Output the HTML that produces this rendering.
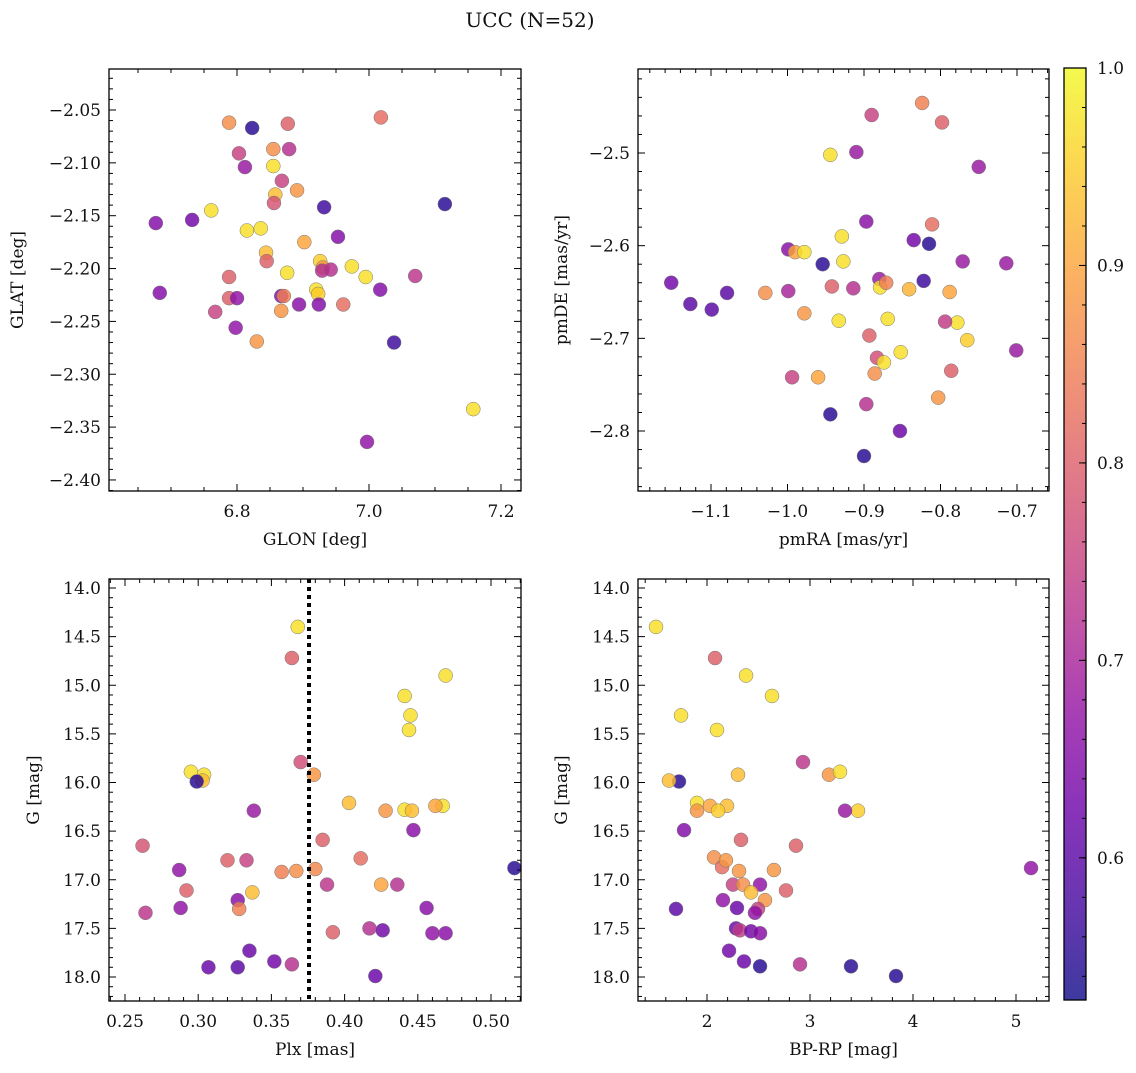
<!DOCTYPE html>
<html><head><meta charset="utf-8">
<style>
html,body{margin:0;padding:0;background:#fff;}
svg text{font-family:"DejaVu Serif","Liberation Serif",serif;fill:#111;}
</style></head>
<body>
<svg id="fig" xmlns="http://www.w3.org/2000/svg" width="1136" height="1068" viewBox="0 0 1136 1068">
<text x="530" y="27" font-size="20" text-anchor="middle">UCC (N=52)</text>
</svg>
<script>
// Panel 1: GLON vs GLAT
const p1X=[6.823,6.788,6.877,7.018,6.803,6.855,6.879,6.855,6.812,6.868,6.858,6.856,6.761,6.932,7.115,6.677,6.732,6.815,6.836,6.891,6.902,6.953,6.844,6.845,6.926,6.930,6.929,6.942,6.974,6.995,6.876,6.788,7.070,6.683,6.788,6.800,6.867,6.871,6.867,6.894,6.920,6.923,6.924,6.961,7.017,6.767,6.798,6.830,7.038,7.158,6.997];
const p1Y=[-2.067,-2.062,-2.063,-2.057,-2.091,-2.087,-2.087,-2.103,-2.104,-2.117,-2.130,-2.138,-2.145,-2.142,-2.139,-2.157,-2.154,-2.164,-2.162,-2.126,-2.175,-2.170,-2.185,-2.193,-2.193,-2.199,-2.202,-2.201,-2.198,-2.208,-2.204,-2.208,-2.207,-2.223,-2.228,-2.228,-2.226,-2.226,-2.240,-2.234,-2.220,-2.224,-2.234,-2.234,-2.220,-2.241,-2.256,-2.269,-2.270,-2.333,-2.364];
const p1C=[0.55,0.87,0.8,0.82,0.75,0.87,0.72,0.97,0.68,0.75,0.93,0.78,0.97,0.57,0.55,0.65,0.63,0.97,0.97,0.88,0.9,0.65,0.93,0.8,0.95,0.88,0.72,0.72,0.97,0.97,0.97,0.8,0.73,0.65,0.8,0.67,0.65,0.85,0.88,0.66,0.97,0.95,0.65,0.82,0.65,0.75,0.67,0.88,0.57,0.97,0.67];
// Panel 2: pmRA vs pmDE
const p2X=[-0.824,-0.890,-0.798,-0.944,-0.910,-0.750,-0.897,-0.811,-0.999,-0.990,-0.978,-0.929,-0.927,-0.954,-0.835,-0.815,-0.771,-0.714,-1.152,-1.127,-1.099,-1.079,-1.029,-0.999,-0.942,-0.933,-0.978,-0.914,-0.880,-0.879,-0.871,-0.841,-0.822,-0.788,-0.778,-0.794,-0.869,-0.893,-0.883,-0.874,-0.852,-0.765,-0.701,-0.886,-0.960,-0.994,-0.803,-0.786,-0.897,-0.944,-0.853,-0.900];
const p2Y=[-2.446,-2.459,-2.467,-2.502,-2.499,-2.515,-2.574,-2.577,-2.604,-2.607,-2.607,-2.590,-2.617,-2.620,-2.594,-2.598,-2.617,-2.619,-2.640,-2.663,-2.669,-2.651,-2.651,-2.649,-2.644,-2.681,-2.673,-2.646,-2.636,-2.645,-2.640,-2.647,-2.638,-2.650,-2.683,-2.682,-2.679,-2.697,-2.721,-2.726,-2.715,-2.702,-2.713,-2.738,-2.742,-2.742,-2.764,-2.735,-2.771,-2.782,-2.800,-2.827];
const p2C=[0.85,0.75,0.8,0.97,0.68,0.68,0.66,0.82,0.66,0.9,0.97,0.97,0.97,0.55,0.63,0.55,0.68,0.68,0.63,0.6,0.6,0.6,0.87,0.7,0.8,0.97,0.88,0.72,0.68,0.97,0.85,0.92,0.57,0.9,0.97,0.74,0.97,0.8,0.77,0.97,0.97,0.95,0.68,0.87,0.9,0.75,0.88,0.8,0.72,0.55,0.62,0.55];
// Panel 3: Plx vs G
const p3X=[0.368,0.364,0.469,0.441,0.445,0.444,0.370,0.379,0.295,0.304,0.303,0.299,0.403,0.441,0.446,0.428,0.467,0.462,0.338,0.385,0.447,0.262,0.287,0.320,0.333,0.367,0.357,0.380,0.411,0.292,0.337,0.388,0.425,0.436,0.288,0.327,0.328,0.264,0.392,0.417,0.426,0.456,0.469,0.460,0.516,0.335,0.307,0.327,0.352,0.364,0.421];
const p3Y=[14.40,14.72,14.90,15.11,15.31,15.46,15.79,15.92,15.89,15.92,15.98,15.99,16.21,16.28,16.29,16.29,16.24,16.24,16.29,16.59,16.49,16.65,16.90,16.80,16.80,16.91,16.92,16.89,16.78,17.11,17.13,17.05,17.05,17.05,17.29,17.21,17.30,17.34,17.54,17.50,17.52,17.29,17.55,17.55,16.88,17.73,17.90,17.90,17.84,17.87,17.99];
const p3C=[0.97,0.8,0.97,0.97,0.97,0.97,0.77,0.88,0.97,0.97,0.93,0.55,0.93,0.97,0.93,0.88,0.97,0.9,0.68,0.8,0.66,0.78,0.67,0.8,0.75,0.87,0.85,0.86,0.82,0.8,0.93,0.73,0.9,0.72,0.67,0.66,0.85,0.73,0.8,0.72,0.63,0.66,0.66,0.67,0.55,0.62,0.62,0.6,0.63,0.72,0.62];
// Panel 4: BP-RP vs G
const p4X=[1.505,2.078,2.379,2.631,1.748,2.097,2.932,2.301,3.184,3.291,1.728,1.631,1.903,2.029,1.903,2.194,2.107,3.466,3.340,1.777,2.330,2.068,2.146,2.184,2.311,2.650,2.864,5.146,2.252,2.515,2.350,2.767,2.427,2.563,2.495,2.466,1.699,2.155,2.291,2.282,2.320,2.427,2.515,2.214,2.359,2.515,2.903,3.398,3.835];
const p4Y=[14.40,14.72,14.90,15.11,15.31,15.46,15.79,15.92,15.92,15.89,15.99,15.98,16.21,16.24,16.29,16.24,16.29,16.29,16.29,16.49,16.59,16.77,16.87,16.80,16.91,16.90,16.65,16.88,17.05,17.05,17.05,17.11,17.13,17.21,17.30,17.34,17.30,17.21,17.29,17.50,17.52,17.53,17.55,17.73,17.84,17.89,17.87,17.89,17.99];
const p4C=[0.97,0.8,0.97,0.97,0.97,0.97,0.73,0.93,0.88,0.97,0.55,0.93,0.97,0.9,0.88,0.93,0.95,0.95,0.68,0.65,0.8,0.87,0.82,0.88,0.88,0.88,0.8,0.67,0.75,0.67,0.87,0.8,0.93,0.88,0.75,0.67,0.6,0.67,0.62,0.63,0.74,0.63,0.66,0.63,0.62,0.55,0.72,0.55,0.55];
const plxMean=0.3757;
const cbTicks=[0.6,0.7,0.8,0.9,1.0];
const vmin=0.528, vmax=1.0;

const NS='http://www.w3.org/2000/svg';
const svg=document.getElementById('fig');
function mk(tag,attrs,parent){const e=document.createElementNS(NS,tag);for(const k in attrs)e.setAttribute(k,attrs[k]);(parent||svg).appendChild(e);return e;}
const plasma=[[13,8,135],[65,4,157],[106,0,168],[143,13,164],[177,42,144],[204,71,120],[225,100,98],[242,132,75],[252,166,54],[252,206,37],[240,249,33]];
function cmap(p){let t=(p-vmin)/(vmax-vmin);t=Math.max(0,Math.min(1,t))*10;const i=Math.min(9,Math.floor(t)),f=t-i;const a=plasma[i],b=plasma[i+1];return 'rgb('+a.map((v,k)=>Math.round(v+(b[k]-v)*f)).join(',')+')';}

function panel(o){
  const g=mk('g',{});
  
  
  const sx=v=>o.x0+(v-o.xa)*o.xk, sy=v=>o.y0+(v-o.ya)*o.yk;
  for(let i=0;i<o.X.length;i++){
    const c=mk('circle',{cx:sx(o.X[i]),cy:sy(o.Y[i]),r:7,fill:cmap(o.C[i]),'fill-opacity':0.82,stroke:'#777','stroke-width':0.5},g);
    
    
  }
  if(o.vline!==undefined){
    const l=mk('line',{x1:sx(o.vline),x2:sx(o.vline),y1:o.top,y2:o.bot,stroke:'#000','stroke-width':4,'stroke-dasharray':'4,4'},g);
    
    
  }
  const fr=mk('rect',{x:o.left,y:o.top,width:o.right-o.left,height:o.bot-o.top,fill:'none',stroke:'#000','stroke-width':1.3},g);
  
  
  const xmin=o.xa+(o.left-o.x0)/o.xk, xmax=o.xa+(o.right-o.x0)/o.xk;
  for(let k=Math.ceil(xmin/o.xm-1e-6);k*o.xm<=xmax+1e-9;k++){
    const v=k*o.xm, px=sx(v); const isMaj=Math.abs(v/o.xM-Math.round(v/o.xM))<1e-6; const L=isMaj?7:4;
    mk('line',{x1:px,x2:px,y1:o.bot,y2:o.bot-L,stroke:'#000','stroke-width':1},g);
    mk('line',{x1:px,x2:px,y1:o.top,y2:o.top+L,stroke:'#000','stroke-width':1},g);
    if(isMaj){const t=mk('text',{x:px,y:o.bot+26,'font-size':17,'text-anchor':'middle'},g);t.textContent=o.fx(v);
      }
  }
  const ya=o.ya+(o.top-o.y0)/o.yk, yb=o.ya+(o.bot-o.y0)/o.yk;
  const ylo=Math.min(ya,yb), yhi=Math.max(ya,yb);
  for(let k=Math.ceil(ylo/o.ym-1e-6);k*o.ym<=yhi+1e-9;k++){
    const v=k*o.ym, py=sy(v); const isMaj=Math.abs(v/o.yM-Math.round(v/o.yM))<1e-6; const L=isMaj?7:4;
    mk('line',{x1:o.left,x2:o.left+L,y1:py,y2:py,stroke:'#000','stroke-width':1},g);
    mk('line',{x1:o.right,x2:o.right-L,y1:py,y2:py,stroke:'#000','stroke-width':1},g);
    if(isMaj){const t=mk('text',{x:o.left-8,y:py+6,'font-size':17,'text-anchor':'end'},g);t.textContent=o.fy(v);
      }
  }
  const xl=mk('text',{x:(o.left+o.right)/2,y:o.bot+54,'font-size':17,'text-anchor':'middle'},g);xl.textContent=o.xlab;
  
  const cy=(o.top+o.bot)/2;
  const yl=mk('text',{x:o.ylx,y:cy,'font-size':17,'text-anchor':'middle',transform:'rotate(-90 '+o.ylx+' '+cy+')'},g);yl.textContent=o.ylab;
  
}
const neg=s=>s.replace('-','\u2212');
panel({name:'glon-glat-panel',X:p1X,Y:p1Y,C:p1C,left:109,right:521,top:69,bot:491,x0:237,xa:6.8,xk:660,y0:110,ya:-2.05,yk:-1057,xM:0.2,xm:0.05,yM:0.05,ym:0.01,fx:v=>v.toFixed(1),fy:v=>neg(v.toFixed(2)),xlab:'GLON [deg]',ylab:'GLAT [deg]',ylx:23});
panel({name:'pm-panel',X:p2X,Y:p2Y,C:p2C,left:638,right:1049,top:69,bot:491,x0:711,xa:-1.1,xk:765,y0:153,ya:-2.5,yk:-926.7,xM:0.1,xm:0.02,yM:0.1,ym:0.02,fx:v=>neg(v.toFixed(1)),fy:v=>neg(v.toFixed(1)),xlab:'pmRA [mas/yr]',ylab:'pmDE [mas/yr]',ylx:567});
panel({name:'plx-g-panel',X:p3X,Y:p3Y,C:p3C,left:109,right:521,top:579,bot:1001,x0:125,xa:0.25,xk:1464,y0:588,ya:14,yk:97.25,xM:0.05,xm:0.01,yM:0.5,ym:0.1,fx:v=>v.toFixed(2),fy:v=>v.toFixed(1),xlab:'Plx [mas]',ylab:'G [mag]',ylx:39,vline:plxMean});
panel({name:'cmd-panel',X:p4X,Y:p4Y,C:p4C,left:638,right:1049,top:579,bot:1001,x0:707,xa:2,xk:103,y0:588,ya:14,yk:97.25,xM:1,xm:0.2,yM:0.5,ym:0.1,fx:v=>v.toFixed(0),fy:v=>v.toFixed(1),xlab:'BP-RP [mag]',ylab:'G [mag]',ylx:567});

const cb=mk('g',{});


const defs=mk('defs',{},cb);
const lg=mk('linearGradient',{id:'pl',x1:0,y1:1,x2:0,y2:0},defs);
for(let i=0;i<=10;i++){mk('stop',{offset:i/10,'stop-color':'rgb('+plasma[i].join(',')+')','stop-opacity':0.8},lg);}
const cbTop=68,cbBot=1000,cbL=1064,cbR=1086;
const cy=v=>cbBot-(v-vmin)/(vmax-vmin)*(cbBot-cbTop);
mk('rect',{x:cbL,y:cbTop,width:cbR-cbL,height:cbBot-cbTop,fill:'url(#pl)',stroke:'#000','stroke-width':1.3},cb);
for(let k=27;k<=50;k++){const v=k*0.02;if(v<vmin)continue;const y=cy(v);mk('line',{x1:cbR,x2:cbR-4,y1:y,y2:y,stroke:'#000','stroke-width':1},cb);}
cbTicks.forEach(v=>{const y=cy(v);mk('line',{x1:cbR,x2:cbR-7,y1:y,y2:y,stroke:'#000','stroke-width':1},cb);
  const t=mk('text',{x:cbR+11,y:y+6,'font-size':17},cb);t.textContent=v.toFixed(1);
  });
</script>
</body></html>
